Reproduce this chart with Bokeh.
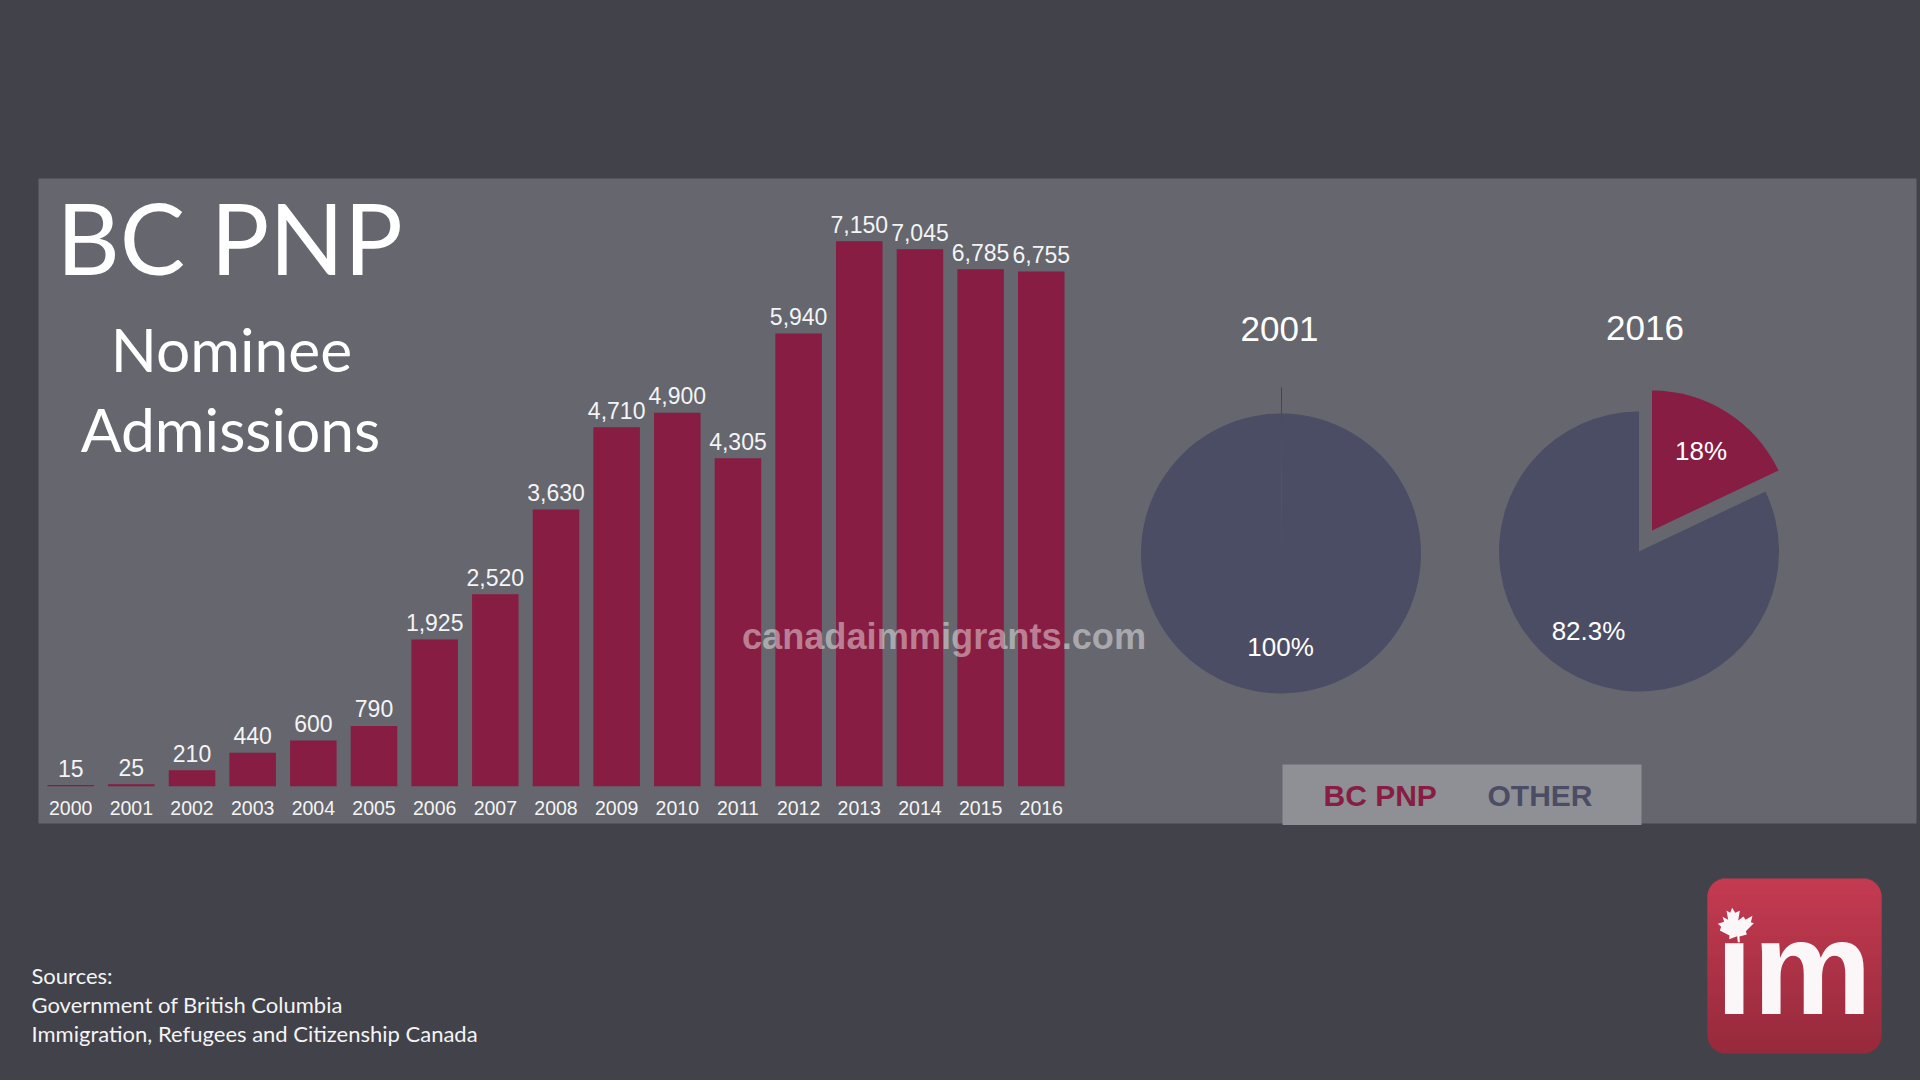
from bokeh.plotting import figure
from bokeh.models import Range1d, ColumnDataSource, FixedTicker
from bokeh.core.properties import value
from bokeh.embed import file_html
from bokeh.resources import INLINE
import math

# ---- data ----
years = list(range(2000, 2017))
admissions = [15, 25, 210, 440, 600, 790, 1925, 2520, 3630, 4710, 4900, 4305, 5940, 7150, 7045, 6785, 6755]
tick_labels = [str(y) for y in years]
pie_2001_labels = ["100%"]
pie_2001_shares = [0.1, 99.9]   # BC PNP, OTHER
pie_2016_shares = [18.0, 82.3]  # BC PNP, OTHER
legend_labels = ["BC PNP", "OTHER"]
source_lines = ["Sources:", "Government of British Columbia", "Immigration, Refugees and Citizenship Canada"]

# ---- style ----
BG = "#42424b"; PANEL = "#65666e"; RED = "#871d42"; SLATE = "#4b4d64"; LEG = "#8f9096"; WHITE = "#ffffff"
SANS = "Liberation Sans"; HUM = "Lato"
W, H = 1920, 1080
OFF = 0
PITCH = 60.66; X0 = 70.2          # screen x of year 2000
BASE = 785.7; SCALE = 0.0762       # screen y of zero, px per admission
ASC = {SANS: 0.35, HUM: 0.38}      # alphabetic anchor correction

x_start = years[0] + (OFF - X0) / PITCH
y_bottom = (BASE - (OFF + H)) / SCALE
y_top = (BASE - OFF) / SCALE

p = figure(width=W, height=H, output_backend="svg", toolbar_location=None,
           x_range=Range1d(x_start, x_start + W / PITCH), y_range=Range1d(y_bottom, y_top),
           background_fill_color=BG, border_fill_color=BG, outline_line_color=None,
           min_border=0, min_border_left=0, min_border_right=0, min_border_top=0, min_border_bottom=0)
p.extra_x_ranges["px"] = Range1d(OFF, OFF + W)
p.extra_y_ranges["px"] = Range1d(OFF + H, OFF)
p.grid.visible = False
p.yaxis.visible = False

PX = dict(x_range_name="px", y_range_name="px")

def box(l, r, t, b, c, **kw):
    p.quad(left=l, right=r, top=t, bottom=b, fill_color=c, line_color=None, **PX, **kw)

def txt(x, y, s, size, color=WHITE, font=SANS, align="center", style="normal", alpha=1.0):
    p.text(x=[x], y=[y], text=[s], text_font=value(font), text_font_size=value(f"{size}px"), text_color=color,
           text_align=align, text_baseline="middle", text_font_style=style, text_alpha=alpha,
           y_offset=-ASC[font] * size, **PX)

# panel
box(38, 1916, 178, 823, PANEL)

# bars
src = ColumnDataSource(dict(year=years, value=admissions, label=[f"{v:,}" for v in admissions]))
p.vbar(x="year", top="value", bottom=0, width=46.5 / PITCH, source=src, fill_color=RED, line_color=None)
p.text(x="year", y="value", text="label", source=src, text_font=value(SANS), text_font_size=value("23px"),
       text_color="#f4f4f4", text_align="center", text_baseline="middle", y_offset=-9 - ASC[SANS] * 23)

# year axis
ax = p.xaxis[0]
ax.fixed_location = 0
ax.ticker = FixedTicker(ticks=years)
ax.major_label_overrides = dict(zip(years, tick_labels))
ax.axis_line_color = None
ax.major_tick_line_color = None
ax.minor_tick_line_color = None
ax.major_label_standoff = 9
ax.major_label_text_font = SANS
ax.major_label_text_font_size = "19.5px"
ax.major_label_text_color = "#f4f4f4"

# title
txt(56, 274, "BC  PNP", 98, font=HUM, align="left")
txt(231, 371, "Nominee", 60.5, font=HUM)
txt(230, 451, "Admissions", 60.5, font=HUM)

# pies
def pie(cx, cy, shares, ex, ey):
    sw = 360.0 * shares[0] / sum(shares)
    start = math.radians(90 - sw); stop = math.radians(90)
    p.wedge(x=[cx + ex], y=[cy + ey], radius=140, start_angle=[start], end_angle=[stop],
            fill_color=RED, line_color=None, **PX)
    p.wedge(x=[cx], y=[cy], radius=140, start_angle=[stop], end_angle=[start + 2 * math.pi],
            fill_color=SLATE, line_color=None, **PX)

pie(1280.5, 553, pie_2001_shares, 0, -26)
pie(1638.5, 551, pie_2016_shares, 13, -21)
txt(1279, 341, "2001", 35)
txt(1644.5, 340, "2016", 35)
txt(1280, 656, pie_2001_labels[0], 26)
txt(1588, 640, f"{pie_2016_shares[1]}%", 26)
txt(1700.5, 460, f"{pie_2016_shares[0]:.0f}%", 26)

# legend
box(1282, 1641, 764, 824.5, LEG)
txt(1323, 805, legend_labels[0], 30, color=RED, style="bold", align="left")
txt(1487, 805, legend_labels[1], 30, color=SLATE, style="bold", align="left")

# watermark
txt(943.5, 649, "canadaimmigrants.com", 36.2, style="bold", alpha=0.44)

# sources
for line, yy in zip(source_lines, [983, 1012, 1041]):
    txt(31, yy, line, 22, font=HUM, color="#f4f4f4", align="left")

# logo: rounded square with vertical gradient
L, R, T, B, RAD = 1707, 1881, 878, 1053, 18
MID = (T + B) // 2
rows = range(T, B)
def inset(y):
    d = max(T + RAD - (y + 0.5), (y + 0.5) - (B - RAD), 0)
    return RAD - math.sqrt(max(RAD * RAD - d * d, 0))
def shade(y):
    f = (y - T) / (B - T)
    return "#%02x%02x%02x" % (round(0xc5 + (0x96 - 0xc5) * f), round(0x3b + (0x2a - 0x3b) * f), round(0x52 + (0x3c - 0x52) * f))
p.quad(left=[L + inset(y) for y in rows], right=[R - inset(y) for y in rows],
       top=[y if y < MID else y - 1 for y in rows], bottom=[y + 2 if y < MID else y + 1 for y in rows],
       fill_color=[shade(y) for y in rows], line_color=None, **PX)
txt(1715, 1014, "\u0131m", 134, color="#fbf6f8", style="bold", align="left")
leaf = [(155,142),(164,157),(178,151),(173,180),(189,168),(195,178),(216,166),(211,185),(220,188),(196,212),(199,222),
        (177,228),(178,245),(172,245),(170,227),(146,236),(147,225),(118,210),(122,199),(112,190),(131,184),(126,169),
        (143,178),(138,150),(149,157)]
p.patch(x=[1680 + a / 3 for a, b in leaf], y=[860 + b / 3 for a, b in leaf], fill_color="#fbf6f8", line_color=None, **PX)

html = file_html(p, INLINE)
html = html.replace("<head>", "<head><style>html,body{background:%s;}</style>" % BG, 1)
open("out.html", "w").write(html)
